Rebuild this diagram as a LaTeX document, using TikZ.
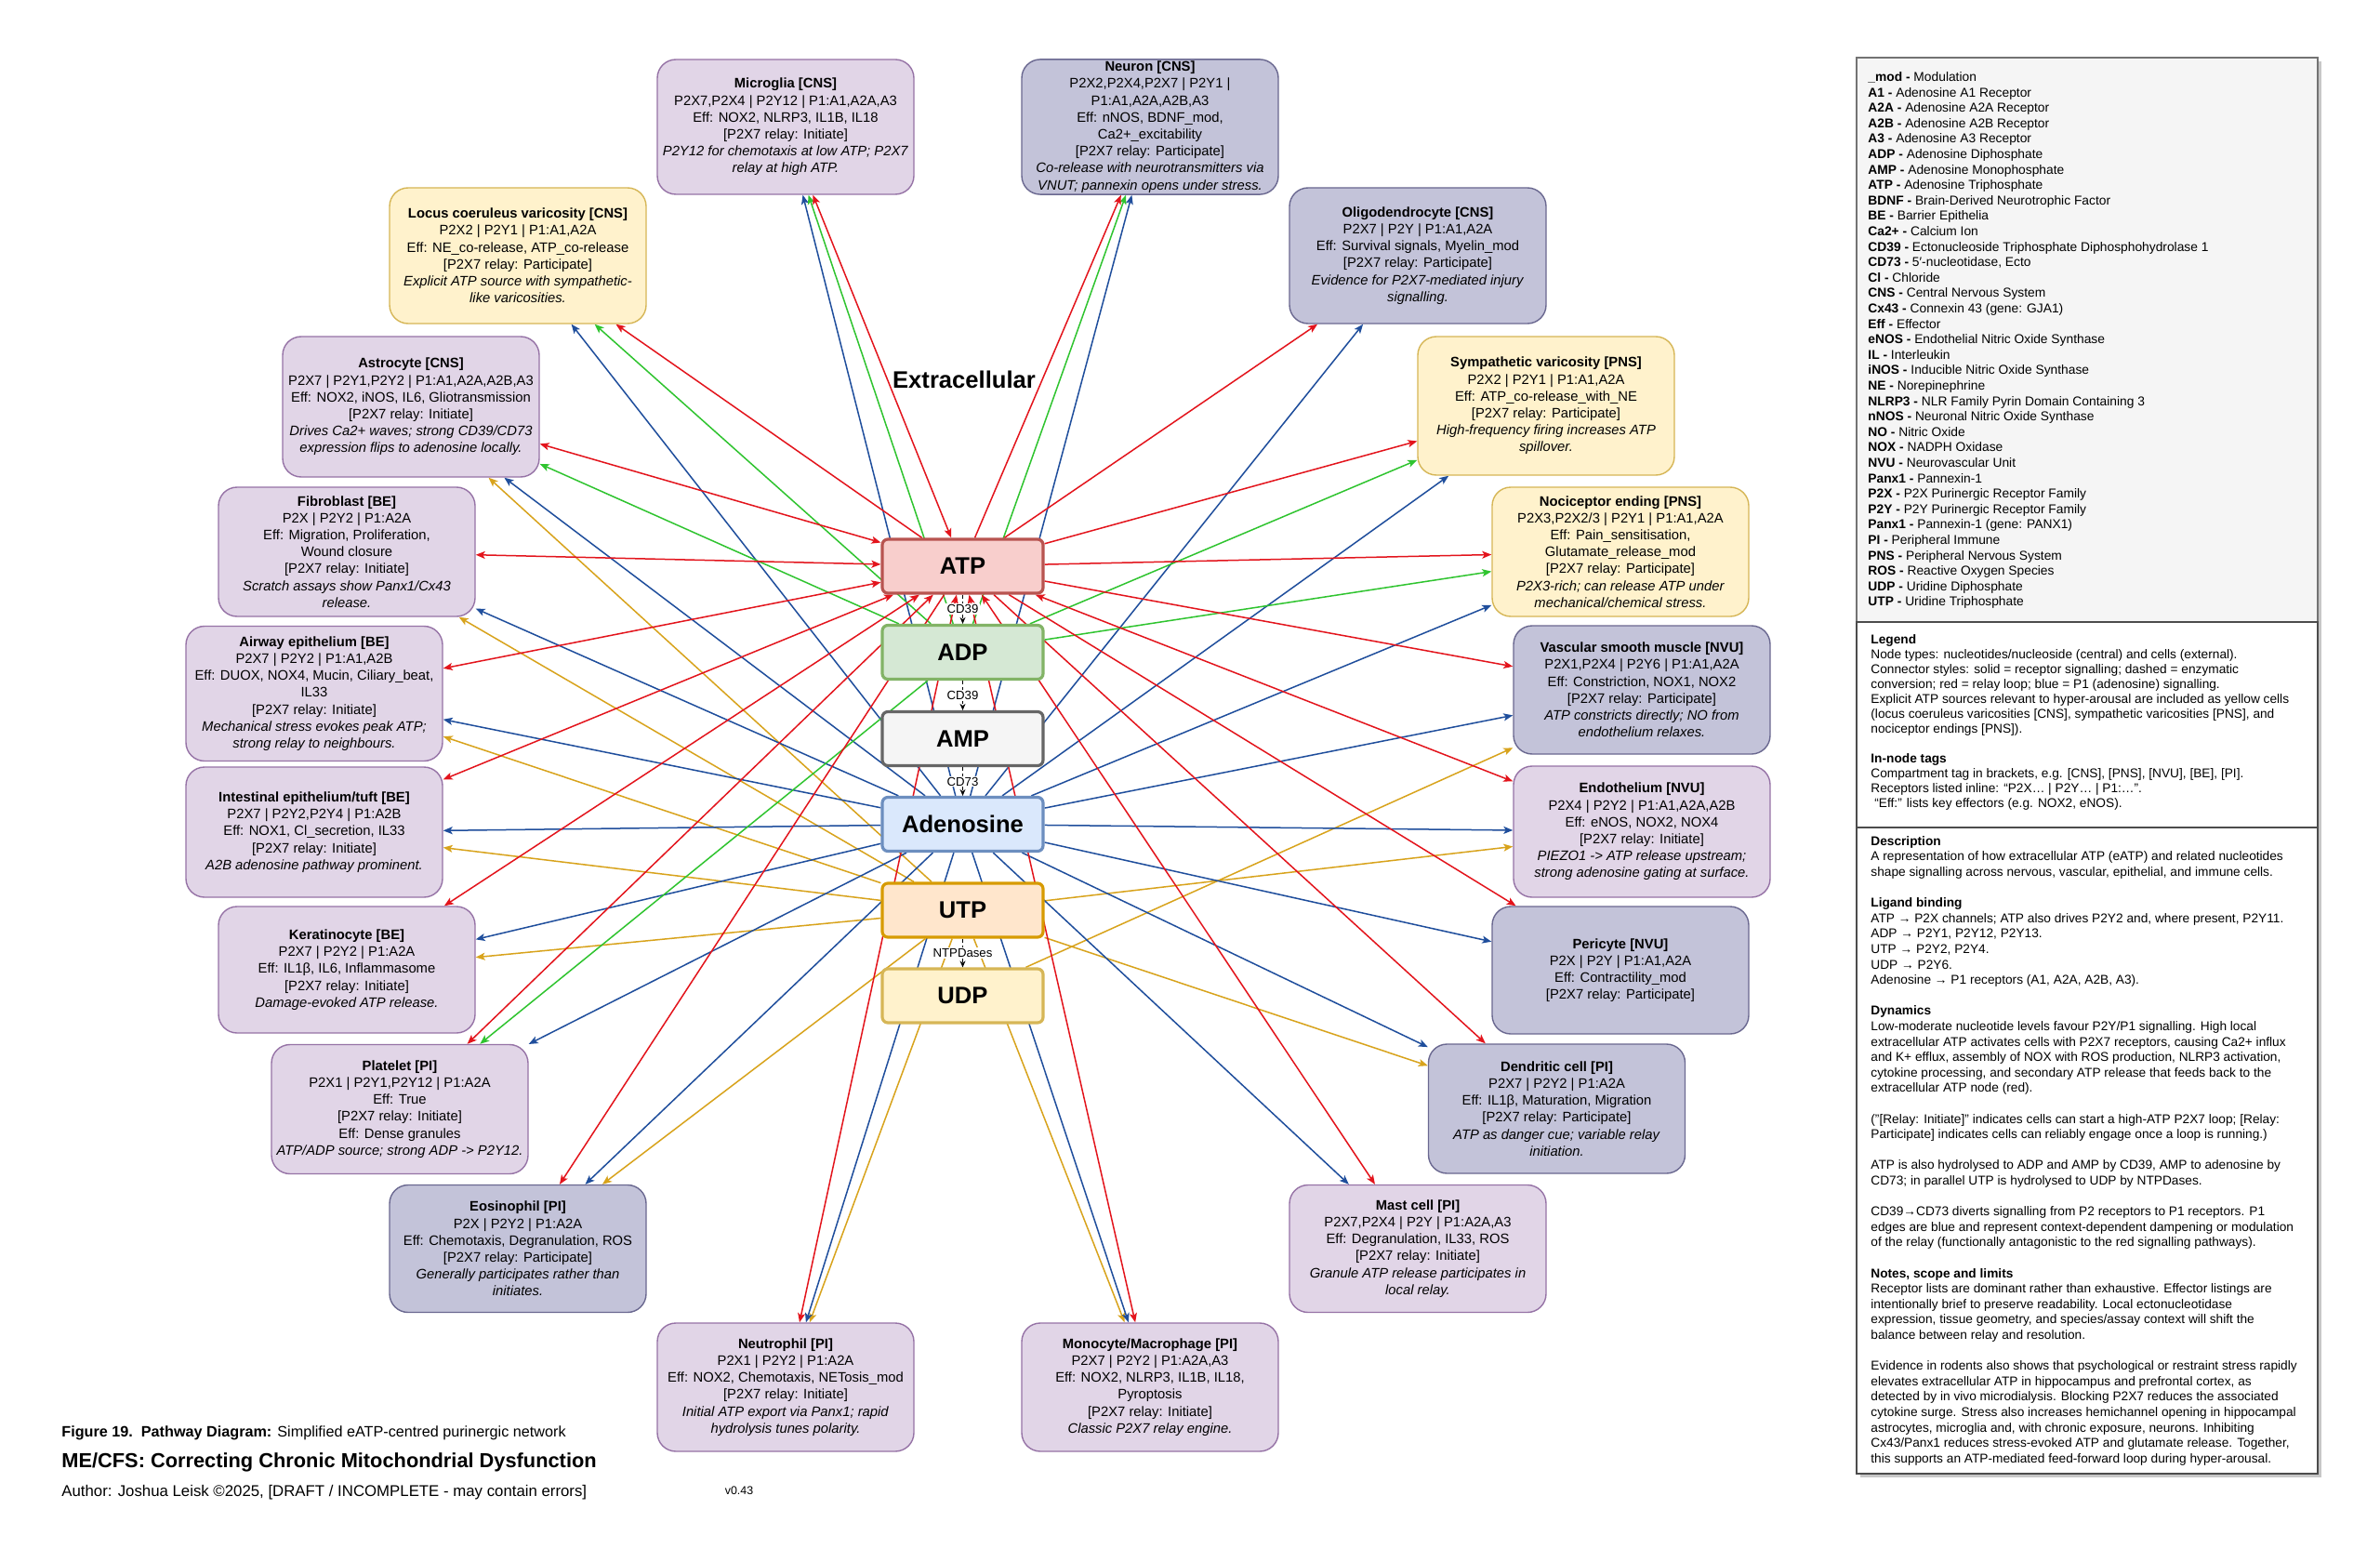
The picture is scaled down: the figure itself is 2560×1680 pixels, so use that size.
\documentclass[tikz,border=0pt]{standalone}
\usepackage{fontspec}
\setmainfont{Liberation Sans}
\usetikzlibrary{arrows.meta,backgrounds}

\definecolor{lavF}{HTML}{E1D5E7}
\definecolor{lavD}{HTML}{9673A6}
\definecolor{gryF}{HTML}{C3C3D9}
\definecolor{gryD}{HTML}{6A6890}
\definecolor{ylwF}{HTML}{FFF2CC}
\definecolor{ylwD}{HTML}{D6B656}
\definecolor{atpF}{HTML}{F8CECC}
\definecolor{atpD}{HTML}{B85450}
\definecolor{adpF}{HTML}{D5E8D4}
\definecolor{adpD}{HTML}{82B366}
\definecolor{ampF}{HTML}{F5F5F5}
\definecolor{ampD}{HTML}{666666}
\definecolor{adoF}{HTML}{DAE8FC}
\definecolor{adoD}{HTML}{6C8EBF}
\definecolor{utpF}{HTML}{FFE6CC}
\definecolor{utpD}{HTML}{D79B00}
\definecolor{udpF}{HTML}{FFF2CC}
\definecolor{udpD}{HTML}{D6B656}
\definecolor{eRed}{HTML}{E3141C}
\definecolor{eGrn}{HTML}{2FC42F}
\definecolor{eBlu}{HTML}{1F4E9C}
\definecolor{eGld}{HTML}{D8A31C}

\newcommand{\rly}[1]{{[P2X7 relay: #1]}}

\begin{document}
\begin{tikzpicture}[x=0.5pt,y=-0.5pt,
  >={Stealth[length=5pt,width=4pt,inset=1.2pt]},
  cell/.style={draw, rounded corners=10pt, minimum width=138pt, align=center,
    font=\fontsize{7.4}{9.1}\selectfont, inner xsep=2pt, inner ysep=1pt, line width=0.7pt},
  lav/.style={cell, fill=lavF, draw=lavD},
  gry/.style={cell, fill=gryF, draw=gryD},
  ylw/.style={cell, fill=ylwF, draw=ylwD},
  boxh/.style={minimum height=#1*0.5pt},
  nuc/.style={draw, rounded corners=3pt, minimum width=86.5pt, minimum height=29pt,
    line width=1.6pt, font=\fontsize{12.8}{15}\selectfont\bfseries},
  sigR/.style={draw=eRed, line width=0.75pt, ->},
  sigRR/.style={draw=eRed, line width=0.75pt, <->},
  sigG/.style={draw=eGrn, line width=0.75pt, ->},
  sigB/.style={draw=eBlu, line width=0.75pt, ->},
  sigY/.style={draw=eGld, line width=0.75pt, ->},
  conv/.style={draw=black, line width=0.5pt, dash pattern=on 2pt off 1.5pt,
    -{Stealth[length=3.5pt,width=3pt]}},
  convlbl/.style={fill=white, inner sep=0.6pt, font=\fontsize{6.6}{7}\selectfont},
  legtxt/.style={align=left, inner sep=0pt, anchor=north west},
]
\useasboundingbox (0,0) rectangle (2560,1680);

% ---------- central nucleotides ----------
\node[nuc, fill=atpF, draw=atpD] (atp) at (1035.5,609) {ATP};
\node[nuc, fill=adpF, draw=adpD] (adp) at (1035.5,701.5) {ADP};
\node[nuc, fill=ampF, draw=ampD] (amp) at (1035.5,794.5) {AMP};
\node[nuc, fill=adoF, draw=adoD] (ado) at (1035.5,886.5) {Adenosine};
\node[nuc, fill=utpF, draw=utpD] (utp) at (1035.5,979) {UTP};
\node[nuc, fill=udpF, draw=udpD] (udp) at (1035.5,1071) {UDP};

\node[font=\fontsize{12.8}{15}\selectfont\bfseries] (extra) at (1037,408) {Extracellular};

\draw[conv] (atp) -- node[convlbl]{CD39} (adp);
\draw[conv] (adp) -- node[convlbl]{CD39} (amp);
\draw[conv] (amp) -- node[convlbl]{CD73} (ado);
\draw[conv] (utp) -- node[convlbl]{NTPDases} (udp);

% ---------- cells ----------
\node[lav, boxh=145] (mic) at (845,136.5) {\textbf{Microglia [CNS]}\\ P2X7,P2X4 | P2Y12 | P1:A1,A2A,A3\\ Eff: NOX2, NLRP3, IL1B, IL18\\ \rly{Initiate}\\ \textit{P2Y12 for chemotaxis at low ATP; P2X7}\\ \textit{relay at high ATP.}};
\node[gry, boxh=145] (neu) at (1237,136.5) {\textbf{Neuron [CNS]}\\ P2X2,P2X4,P2X7 | P2Y1 |\\ P1:A1,A2A,A2B,A3\\ Eff: nNOS, BDNF\_mod,\\ Ca2+\_excitability\\ \rly{Participate}\\ \textit{Co-release with neurotransmitters via}\\ \textit{VNUT; pannexin opens under stress.}};
\node[ylw, boxh=146] (loc) at (557,275) {\textbf{Locus coeruleus varicosity [CNS]}\\ P2X2 | P2Y1 | P1:A1,A2A\\ Eff: NE\_co-release, ATP\_co-release\\ \rly{Participate}\\ \textit{Explicit ATP source with sympathetic-}\\ \textit{like varicosities.}};
\node[gry, boxh=146] (oli) at (1525,275) {\textbf{Oligodendrocyte [CNS]}\\ P2X7 | P2Y | P1:A1,A2A\\ Eff: Survival signals, Myelin\_mod\\ \rly{Participate}\\ \textit{Evidence for P2X7-mediated injury}\\ \textit{signalling.}};
\node[lav, boxh=151] (ast) at (442,437.5) {\textbf{Astrocyte [CNS]}\\ P2X7 | P2Y1,P2Y2 | P1:A1,A2A,A2B,A3\\ Eff: NOX2, iNOS, IL6, Gliotransmission\\ \rly{Initiate}\\ \textit{Drives Ca2+ waves; strong CD39/CD73}\\ \textit{expression flips to adenosine locally.}};
\node[ylw, boxh=149] (sym) at (1663,436.5) {\textbf{Sympathetic varicosity [PNS]}\\ P2X2 | P2Y1 | P1:A1,A2A\\ Eff: ATP\_co-release\_with\_NE\\ \rly{Participate}\\ \textit{High-frequency firing increases ATP}\\ \textit{spillover.}};
\node[lav, boxh=139] (fib) at (373,593.5) {\textbf{Fibroblast [BE]}\\ P2X | P2Y2 | P1:A2A\\ Eff: Migration, Proliferation,\\ Wound closure\\ \rly{Initiate}\\ \textit{Scratch assays show Panx1/Cx43}\\ \textit{release.}};
\node[ylw, boxh=139] (noc) at (1743,593.5) {\textbf{Nociceptor ending [PNS]}\\ P2X3,P2X2/3 | P2Y1 | P1:A1,A2A\\ Eff: Pain\_sensitisation,\\ Glutamate\_release\_mod\\ \rly{Participate}\\ \textit{P2X3-rich; can release ATP under}\\ \textit{mechanical/chemical stress.}};
\node[lav, boxh=145] (air) at (338,746) {\textbf{Airway epithelium [BE]}\\ P2X7 | P2Y2 | P1:A1,A2B\\ Eff: DUOX, NOX4, Mucin, Ciliary\_beat,\\ IL33\\ \rly{Initiate}\\ \textit{Mechanical stress evokes peak ATP;}\\ \textit{strong relay to neighbours.}};
\node[gry, boxh=138] (vsm) at (1766,742) {\textbf{Vascular smooth muscle [NVU]}\\ P2X1,P2X4 | P2Y6 | P1:A1,A2A\\ Eff: Constriction, NOX1, NOX2\\ \rly{Participate}\\ \textit{ATP constricts directly; NO from}\\ \textit{endothelium relaxes.}};
\node[lav, boxh=140] (int) at (338,895) {\textbf{Intestinal epithelium/tuft [BE]}\\ P2X7 | P2Y2,P2Y4 | P1:A2B\\ Eff: NOX1, Cl\_secretion, IL33\\ \rly{Initiate}\\ \textit{A2B adenosine pathway prominent.}};
\node[lav, boxh=141] (endo) at (1766,894.5) {\textbf{Endothelium [NVU]}\\ P2X4 | P2Y2 | P1:A1,A2A,A2B\\ Eff: eNOS, NOX2, NOX4\\ \rly{Initiate}\\ \textit{PIEZO1 -> ATP release upstream;}\\ \textit{strong adenosine gating at surface.}};
\node[lav, boxh=136] (ker) at (373,1043) {\textbf{Keratinocyte [BE]}\\ P2X7 | P2Y2 | P1:A2A\\ Eff: IL1β, IL6, Inflammasome\\ \rly{Initiate}\\ \textit{Damage-evoked ATP release.}};
\node[gry, boxh=137] (per) at (1743,1043.5) {\textbf{Pericyte [NVU]}\\ P2X | P2Y | P1:A1,A2A\\ Eff: Contractility\_mod\\ \rly{Participate}};
\node[lav, boxh=139] (pla) at (430,1193) {\textbf{Platelet [PI]}\\ P2X1 | P2Y1,P2Y12 | P1:A2A\\ Eff: True\\ \rly{Initiate}\\ Eff: Dense granules\\ \textit{ATP/ADP source; strong ADP -> P2Y12.}};
\node[gry, boxh=139] (den) at (1674.5,1192.5) {\textbf{Dendritic cell [PI]}\\ P2X7 | P2Y2 | P1:A2A\\ Eff: IL1β, Maturation, Migration\\ \rly{Participate}\\ \textit{ATP as danger cue; variable relay}\\ \textit{initiation.}};
\node[gry, boxh=137] (eos) at (557,1343) {\textbf{Eosinophil [PI]}\\ P2X | P2Y2 | P1:A2A\\ Eff: Chemotaxis, Degranulation, ROS\\ \rly{Participate}\\ \textit{Generally participates rather than}\\ \textit{initiates.}};
\node[lav, boxh=137] (mas) at (1525,1343) {\textbf{Mast cell [PI]}\\ P2X7,P2X4 | P2Y | P1:A2A,A3\\ Eff: Degranulation, IL33, ROS\\ \rly{Initiate}\\ \textit{Granule ATP release participates in}\\ \textit{local relay.}};
\node[lav, boxh=138] (neut) at (845,1492) {\textbf{Neutrophil [PI]}\\ P2X1 | P2Y2 | P1:A2A\\ Eff: NOX2, Chemotaxis, NETosis\_mod\\ \rly{Initiate}\\ \textit{Initial ATP export via Panx1; rapid}\\ \textit{hydrolysis tunes polarity.}};
\node[lav, boxh=138] (mon) at (1237,1492) {\textbf{Monocyte/Macrophage [PI]}\\ P2X7 | P2Y2 | P1:A2A,A3\\ Eff: NOX2, NLRP3, IL1B, IL18,\\ Pyroptosis\\ \rly{Initiate}\\ \textit{Classic P2X7 relay engine.}};

% ---------- connectors (behind nodes) ----------
\begin{scope}[on background layer]
\fill[white] (0,0) rectangle (2560,1680);
\foreach \c in {ast,fib,air,int,ker,eos,neut,mon,den,endo} \draw[sigY] (utp) -- (\c);
\draw[sigY] (udp) -- (vsm);
\foreach \c in {mic,neu,loc,oli,ast,sym,fib,noc,air,vsm,int,endo,ker,per,pla,den,eos,mas,neut,mon} \draw[sigB] (ado) -- (\c);
\foreach \c in {mic,neu,loc,ast,sym,noc,pla} \draw[sigG] (adp) -- (\c);
\foreach \c in {neu,loc,oli,sym,noc,vsm,per,den,eos} \draw[sigR] (atp) -- (\c);
\foreach \c in {mic,ast,fib,air,int,endo,ker,pla,mas,neut,mon} \draw[sigRR] (atp) -- (\c);
\end{scope}

% ---------- legend panels ----------
\fill[black!22] (2001,66) rectangle (2497,673);
\draw[draw=black!55, fill=ampF, line width=0.6pt] (1997,62) rectangle (2493,669);
\fill[black!22] (2001,673) rectangle (2497,1589);
\draw[draw=black!70, fill=white, line width=0.6pt] (1997,669) rectangle (2493,890);
\draw[draw=black!70, fill=white, line width=0.6pt] (1997,890) rectangle (2493,1585);

\node[legtxt, font=\fontsize{6.9}{8.3}\selectfont] (abbr) at (2009,77) {%
\textbf{\_mod -} Modulation\\
\textbf{A1 -} Adenosine A1 Receptor\\
\textbf{A2A -} Adenosine A2A Receptor\\
\textbf{A2B -} Adenosine A2B Receptor\\
\textbf{A3 -} Adenosine A3 Receptor\\
\textbf{ADP -} Adenosine Diphosphate\\
\textbf{AMP -} Adenosine Monophosphate\\
\textbf{ATP -} Adenosine Triphosphate\\
\textbf{BDNF -} Brain-Derived Neurotrophic Factor\\
\textbf{BE -} Barrier Epithelia\\
\textbf{Ca2+ -} Calcium Ion\\
\textbf{CD39 -} Ectonucleoside Triphosphate Diphosphohydrolase 1\\
\textbf{CD73 -} 5′-nucleotidase, Ecto\\
\textbf{Cl -} Chloride\\
\textbf{CNS -} Central Nervous System\\
\textbf{Cx43 -} Connexin 43 (gene: GJA1)\\
\textbf{Eff -} Effector\\
\textbf{eNOS -} Endothelial Nitric Oxide Synthase\\
\textbf{IL -} Interleukin\\
\textbf{iNOS -} Inducible Nitric Oxide Synthase\\
\textbf{NE -} Norepinephrine\\
\textbf{NLRP3 -} NLR Family Pyrin Domain Containing 3\\
\textbf{nNOS -} Neuronal Nitric Oxide Synthase\\
\textbf{NO -} Nitric Oxide\\
\textbf{NOX -} NADPH Oxidase\\
\textbf{NVU -} Neurovascular Unit\\
\textbf{Panx1 -} Pannexin-1\\
\textbf{P2X -} P2X Purinergic Receptor Family\\
\textbf{P2Y -} P2Y Purinergic Receptor Family\\
\textbf{Panx1 -} Pannexin-1 (gene: PANX1)\\
\textbf{PI -} Peripheral Immune\\
\textbf{PNS -} Peripheral Nervous System\\
\textbf{ROS -} Reactive Oxygen Species\\
\textbf{UDP -} Uridine Diphosphate\\
\textbf{UTP -} Uridine Triphosphate};

\node[legtxt, font=\fontsize{6.85}{8.0}\selectfont] (leg) at (2012,682) {%
\textbf{Legend}\\
Node types: nucleotides/nucleoside (central) and cells (external).\\
Connector styles: solid = receptor signalling; dashed = enzymatic\\
conversion; red = relay loop; blue = P1 (adenosine) signalling.\\
Explicit ATP sources relevant to hyper-arousal are included as yellow cells\\
(locus coeruleus varicosities [CNS], sympathetic varicosities [PNS], and\\
nociceptor endings [PNS]).\\[8pt]
\textbf{In-node tags}\\
Compartment tag in brackets, e.g. [CNS], [PNS], [NVU], [BE], [PI].\\
Receptors listed inline: “P2X… | P2Y… | P1:…”.\\
\hspace{2pt}“Eff:” lists key effectors (e.g. NOX2, eNOS).};

\node[legtxt, font=\fontsize{6.85}{8.3}\selectfont] (desc) at (2012,899) {%
\textbf{Description}\\
A representation of how extracellular ATP (eATP) and related nucleotides\\
shape signalling across nervous, vascular, epithelial, and immune cells.\\[8.3pt]
\textbf{Ligand binding}\\
ATP → P2X channels; ATP also drives P2Y2 and, where present, P2Y11.\\
ADP → P2Y1, P2Y12, P2Y13.\\
UTP → P2Y2, P2Y4.\\
UDP → P2Y6.\\
Adenosine → P1 receptors (A1, A2A, A2B, A3).\\[8.3pt]
\textbf{Dynamics}\\
Low-moderate nucleotide levels favour P2Y/P1 signalling. High local\\
extracellular ATP activates cells with P2X7 receptors, causing Ca2+ influx\\
and K+ efflux, assembly of NOX with ROS production, NLRP3 activation,\\
cytokine processing, and secondary ATP release that feeds back to the\\
extracellular ATP node (red).\\[8.3pt]
("[Relay: Initiate]" indicates cells can start a high-ATP P2X7 loop; [Relay:\\
Participate] indicates cells can reliably engage once a loop is running.)\\[8.3pt]
ATP is also hydrolysed to ADP and AMP by CD39, AMP to adenosine by\\
CD73; in parallel UTP is hydrolysed to UDP by NTPDases.\\[8.3pt]
CD39→CD73 diverts signalling from P2 receptors to P1 receptors. P1\\
edges are blue and represent context-dependent dampening or modulation\\
of the relay (functionally antagonistic to the red signalling pathways).\\[8.3pt]
\textbf{Notes, scope and limits}\\
Receptor lists are dominant rather than exhaustive. Effector listings are\\
intentionally brief to preserve readability. Local ectonucleotidase\\
expression, tissue geometry, and species/assay context will shift the\\
balance between relay and resolution.\\[8.3pt]
Evidence in rodents also shows that psychological or restraint stress rapidly\\
elevates extracellular ATP in hippocampus and prefrontal cortex, as\\
detected by in vivo microdialysis. Blocking P2X7 reduces the associated\\
cytokine surge. Stress also increases hemichannel opening in hippocampal\\
astrocytes, microglia and, with chronic exposure, neurons. Inhibiting\\
Cx43/Panx1 reduces stress-evoked ATP and glutamate release. Together,\\
this supports an ATP-mediated feed-forward loop during hyper-arousal.};

% ---------- caption ----------
\node[anchor=west, inner sep=0pt, font=\fontsize{8.1}{9.5}\selectfont] (fig) at (66,1541) {\textbf{Figure 19.}\ \ \textbf{Pathway Diagram:} Simplified eATP-centred purinergic network};
\node[anchor=west, inner sep=0pt, font=\fontsize{10.9}{12}\selectfont\bfseries] (ttl) at (66,1573) {ME/CFS: Correcting Chronic Mitochondrial Dysfunction};
\node[anchor=west, inner sep=0pt, font=\fontsize{8.4}{9.5}\selectfont] (auth) at (66,1605) {Author: Joshua Leisk ©2025, [DRAFT / INCOMPLETE - may contain errors]};
\node[font=\fontsize{6.2}{7}\selectfont] (ver) at (795,1603) {v0.43};
\end{tikzpicture}
\end{document}
